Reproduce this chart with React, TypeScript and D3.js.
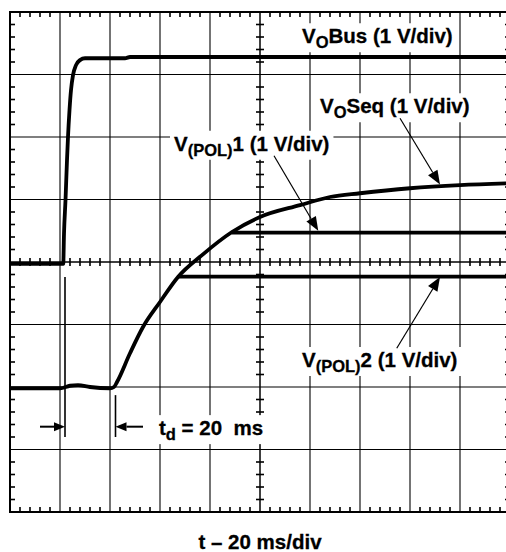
import React, { useEffect, useRef } from 'react';
import * as d3 from 'd3';

// time in ms (20 ms/div), level in divisions from the bottom of the screen
const voBus: [number, number][] = [
  [0, 3.97], [21.3, 3.97], [21.6, 4.45], [22.2, 4.99], [22.8, 5.63], [23.2, 6.0],
  [23.8, 6.43], [24.4, 6.75], [25.2, 6.99], [26.4, 7.15], [28, 7.23], [30, 7.26],
  [46, 7.26], [48, 7.28], [200, 7.28],
];

const voSeq: [number, number][] = [
  [0, 1.98], [20, 1.98], [24, 2.02], [27.2, 2.03], [32, 2.0], [40, 1.98], [41.6, 2.0],
  [42.8, 2.08], [48, 2.54], [53.2, 2.96], [60, 3.36], [67.2, 3.76], [76.8, 4.11],
  [88.8, 4.48], [100, 4.72], [116, 4.91], [128, 5.04], [140, 5.1], [160, 5.18],
  [180, 5.23], [200, 5.26],
];

const vPol1: [number, number][] = [[88.7, 4.47], [200, 4.47]];
const vPol2: [number, number][] = [[67.3, 3.765], [200, 3.765]];

const traces = [voBus, voSeq, vPol1, vPol2];

const labels = [
  { t: 116.8, v: 7.5, main: 'V', sub: 'O', rest: 'Bus (1 V/div)' },
  { t: 124, v: 6.38, main: 'V', sub: 'O', rest: 'Seq (1 V/div)' },
  { t: 65.6, v: 5.78, main: 'V', sub: '(POL)', rest: '1 (1 V/div)' },
  { t: 116.8, v: 2.32, main: 'V', sub: '(POL)', rest: '2 (1 V/div)' },
  { t: 59.6, v: 1.23, main: 't', sub: 'd', rest: ' = 20  ms' },
];

const arrows = [
  { from: [156, 6.3], to: [172, 5.24] },
  { from: [105.6, 5.7], to: [123.3, 4.5] },
  { from: [154.7, 2.62], to: [172, 3.76] },
  { from: [12, 1.365], to: [22, 1.365] },
  { from: [53.2, 1.365], to: [42.2, 1.365] },
];

const markers = [
  { t: 22, v0: 3.76, v1: 1.2 },
  { t: 42.2, v0: 1.87, v1: 1.2 },
];

const xLabel = 't \u2013 20 ms/div';

function App() {
  const svgRef = useRef<SVGSVGElement>(null);

  useEffect(() => {
    const svg = d3.select(svgRef.current);
    svg.selectAll('*').remove();
    const left = 10, top = 12, w = 500, h = 500;
    const x = d3.scaleLinear().domain([0, 200]).range([left, left + w]);
    const y = d3.scaleLinear().domain([0, 8]).range([top + h, top]);
    const font = '"Liberation Sans", Arial, Helvetica, sans-serif';

    const grid = svg.append('g');
    const seg = (x1: number, y1: number, x2: number, y2: number, sw: number) =>
      grid.append('line').attr('x1', x1).attr('y1', y1).attr('x2', x2).attr('y2', y2)
        .attr('stroke', '#000').attr('stroke-width', sw);

    // major divisions
    d3.range(1, 10).forEach(i => seg(x(i * 20), y(0), x(i * 20), y(8), i === 5 ? 1.5 : 1.1));
    d3.range(1, 8).forEach(i => seg(x(0), y(i), x(200), y(i), i === 4 ? 1.5 : 1.1));
    grid.append('rect').attr('x', x(0)).attr('y', y(8)).attr('width', w).attr('height', h)
      .attr('fill', 'none').attr('stroke', '#000').attr('stroke-width', 2);

    // minor ticks
    const tx = d3.range(4, 200, 4).filter(d => d % 20 !== 0);
    const ty = d3.range(1, 40).map(d => d / 5).filter((d, i) => (i + 1) % 5 !== 0);
    tx.forEach(d => {
      seg(x(d), y(8), x(d), y(8) + 5, 1.6);
      seg(x(d), y(0), x(d), y(0) - 5, 1.6);
      seg(x(d), y(4) - 4, x(d), y(4) + 4, 1.6);
    });
    ty.forEach(d => {
      seg(x(0), y(d), x(0) + 5, y(d), 1.6);
      seg(x(200), y(d), x(200) - 5, y(d), 1.6);
      seg(x(100) - 4, y(d), x(100) + 4, y(d), 1.6);
    });

    // traces
    const line = d3.line<[number, number]>().x(d => x(d[0])).y(d => y(d[1])).curve(d3.curveMonotoneX);
    svg.append('g').selectAll('path').data(traces).enter().append('path')
      .attr('d', d => line(d))
      .attr('fill', 'none').attr('stroke', '#000').attr('stroke-width', 3.8)
      .attr('stroke-linejoin', 'round').attr('stroke-linecap', 'butt');

    // labels with white knockout
    labels.forEach(l => {
      const g = svg.append('g');
      const txt = g.append('text').attr('x', x(l.t)).attr('y', y(l.v))
        .attr('font-family', font).attr('font-weight', 'bold').attr('font-size', 20.5)
        .attr('stroke', '#000').attr('stroke-width', 0.3)
        .style('white-space', 'pre');
      txt.append('tspan').text(l.main);
      txt.append('tspan').attr('font-size', 16.5).attr('dy', 5).text(l.sub);
      txt.append('tspan').attr('dy', -5).text(l.rest);
      const b = (txt.node() as SVGTextElement).getBBox();
      g.insert('rect', 'text').attr('x', b.x - 4).attr('y', b.y - 1)
        .attr('width', b.width + 8).attr('height', b.height + 2).attr('fill', '#fff');
    });

    // td markers
    markers.forEach(m => {
      svg.append('line').attr('x1', x(m.t)).attr('x2', x(m.t)).attr('y1', y(m.v0)).attr('y2', y(m.v1))
        .attr('stroke', '#000').attr('stroke-width', 1.6);
    });

    // arrows
    arrows.forEach(a => {
      const x0 = x(a.from[0]), y0 = y(a.from[1]), x1 = x(a.to[0]), y1 = y(a.to[1]);
      const len = Math.hypot(x1 - x0, y1 - y0);
      const ux = (x1 - x0) / len, uy = (y1 - y0) / len;
      const horiz = Math.abs(uy) < 0.01;
      const hl = horiz ? 11 : 14, hw = horiz ? 4.5 : 5.5;
      const bx = x1 - ux * hl, by = y1 - uy * hl;
      svg.append('line').attr('x1', x0).attr('y1', y0).attr('x2', bx).attr('y2', by)
        .attr('stroke', '#000').attr('stroke-width', horiz ? 2 : 1.2);
      svg.append('polygon')
        .attr('points', [[x1, y1], [bx - uy * hw, by + ux * hw], [bx + uy * hw, by - ux * hw]]
          .map(p => p.join(',')).join(' '))
        .attr('fill', '#000');
    });

    svg.append('text').attr('x', x(100)).attr('y', 549).attr('text-anchor', 'middle')
      .attr('font-family', font).attr('font-weight', 'bold').attr('font-size', 20.5)
      .attr('stroke', '#000').attr('stroke-width', 0.3)
      .text(xLabel);
  }, []);

  return (
    <svg ref={svgRef} width={506} height={552}
      style={{ position: 'absolute', left: 0, top: 0, background: '#fff' }}></svg>
  );
}

export default App;
